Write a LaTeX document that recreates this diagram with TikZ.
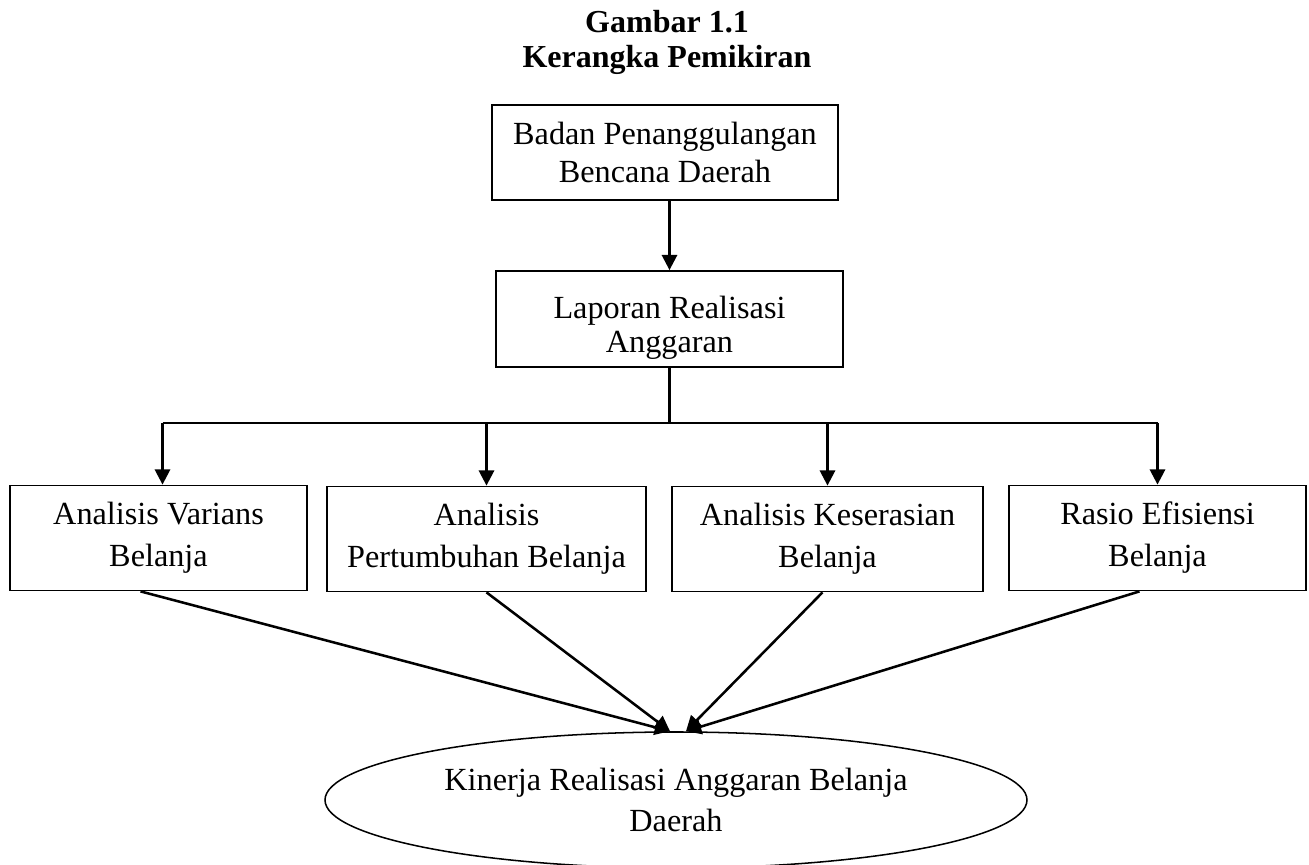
\documentclass[tikz,border=0pt]{standalone}
\usepackage{fontspec}
\setmainfont{Liberation Serif}
\usetikzlibrary{arrows.meta,shapes.geometric}
\newcommand{\pxu}{0.3937pt}

\begin{document}
\begin{tikzpicture}[x=\pxu, y=-\pxu,
    kotak/.style={draw, line width=0.7pt, align=center, inner sep=0pt, minimum height=105*\pxu},
    panah/.style={line width=1pt, -{Triangle[width=6pt,length=6pt]}},
    garis/.style={line width=1pt},
    teks/.style={font=\fontsize{12.7}{16.5}\selectfont}]
  \useasboundingbox (0,0) rectangle (1309,865);
  %%% judul
  \node[anchor=base, font=\bfseries\fontsize{12.6}{14}\selectfont] (judul1) at (667,33) {Gambar 1.1};
  \node[anchor=base, font=\bfseries\fontsize{12.6}{14}\selectfont] (judul2) at (667,68) {Kerangka Pemikiran};
  %%% dua kotak atas
  \node[kotak, minimum width=346*\pxu, minimum height=95*\pxu, font=\fontsize{12.7}{14.6}\selectfont] (bpbd) at (665,152.5) {Badan Penanggulangan\\Bencana Daerah};
  \node[kotak, minimum width=347*\pxu, minimum height=96*\pxu, font=\fontsize{12.7}{13.5}\selectfont] (lra) at (669.5,319) {\rule{0pt}{16pt}Laporan Realisasi\\Anggaran};
  %%% empat kotak analisis
  \node[kotak, teks, minimum width=297*\pxu] (a) at (158.5,538) {Analisis Varians\\Belanja};
  \node[kotak, teks, minimum width=319*\pxu] (b) at (486.5,539) {Analisis\\Pertumbuhan Belanja};
  \node[kotak, teks, minimum width=311*\pxu] (c) at (827.5,539) {Analisis Keserasian\\Belanja};
  \node[kotak, teks, minimum width=297*\pxu] (d) at (1157.5,538) {Rasio Efisiensi\\Belanja};
  %%% elips hasil
  \node[ellipse, draw, line width=0.6pt, teks, align=center, inner sep=0pt,
        minimum width=702*\pxu, minimum height=136*\pxu] (kinerja) at (676,800) {Kinerja Realisasi Anggaran Belanja\\Daerah};
  %%% panah atas
  \draw[panah] (lra.north |- bpbd.south) -- (lra.north);
  \coordinate (bus) at (669,423);
  \draw[garis] (lra.south) -- (lra.south |- bus);
  \draw[garis] ([xshift=4*\pxu]a.north |- bus) -- (d.north |- bus);
  \draw[panah] ([xshift=4*\pxu]a.north |- bus) -- ([xshift=4*\pxu]a.north);
  \foreach \k in {b, c, d}{
    \draw[panah] (\k.north |- bus) -- (\k.north);
  }
  %%% panah ke elips
  \coordinate (ujungkiri) at ([xshift=-6*\pxu]kinerja.north);
  \coordinate (ujungkanan) at ([xshift=10*\pxu]kinerja.north);
  \draw[panah] ([xshift=-18*\pxu]a.south) -- (ujungkiri);
  \draw[panah] (b.south) -- (ujungkiri);
  \draw[panah] ([xshift=-5*\pxu]c.south) -- (ujungkanan);
  \draw[panah] ([xshift=-18*\pxu]d.south) -- (ujungkanan);
\end{tikzpicture}
\end{document}
